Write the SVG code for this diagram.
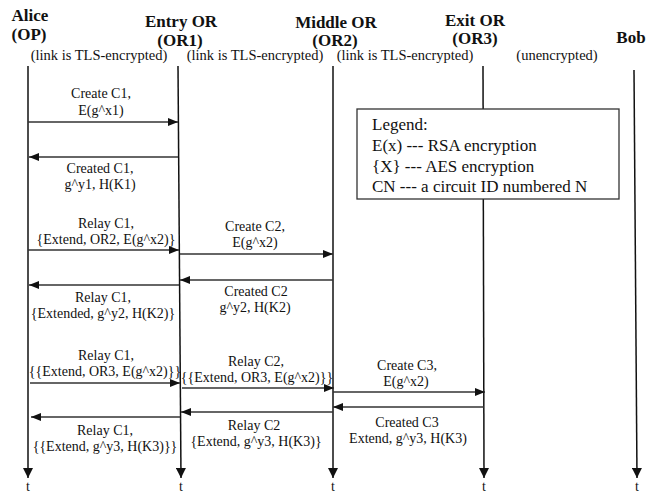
<svg xmlns="http://www.w3.org/2000/svg" width="667" height="493" viewBox="0 0 667 493">
<style>
  text { font-family: "Liberation Serif", "Times New Roman", serif; fill: #111; }
  .hd { font-size: 17px; font-weight: bold; text-anchor: middle; }
  .lk { font-size: 14.5px; text-anchor: middle; }
  .msg { font-size: 14px; text-anchor: middle; }
  .lg { font-size: 17px; }
  .t { font-size: 14px; text-anchor: middle; }
  .life { stroke: #111; stroke-width: 1.5; fill: none; }
  .m { stroke: #333; stroke-width: 1.3; fill: none; marker-end: url(#ah); }
</style>
<defs>
  <marker id="ah" markerUnits="userSpaceOnUse" markerWidth="10" markerHeight="8" refX="10" refY="4" orient="auto">
    <path d="M0,0 L10,4 L0,8 z" fill="#111"/>
  </marker>
  <marker id="lh" markerUnits="userSpaceOnUse" markerWidth="10" markerHeight="10" refX="10" refY="5" orient="auto">
    <path d="M0,0 L10,5 L0,10 z" fill="#111"/>
  </marker>
</defs>
<rect width="667" height="493" fill="#fff"/>

<g id="alice">
  <text class="hd" x="30" y="21">Alice</text>
  <text class="hd" x="29" y="40">(OP)</text>
  <line class="life" x1="28" y1="66" x2="28" y2="478" marker-end="url(#lh)"/>
  <text class="t" x="28" y="491">t</text>
</g>
<g id="or1">
  <text class="hd" x="181" y="27">Entry OR</text>
  <text class="hd" x="180" y="46">(OR1)</text>
  <line class="life" x1="178" y1="66" x2="181" y2="478" marker-end="url(#lh)"/>
  <text class="t" x="181" y="491">t</text>
</g>
<g id="or2">
  <text class="hd" x="336" y="28">Middle OR</text>
  <text class="hd" x="335" y="46">(OR2)</text>
  <line class="life" x1="333" y1="66" x2="333" y2="478" marker-end="url(#lh)"/>
  <text class="t" x="333" y="491">t</text>
</g>
<g id="or3">
  <text class="hd" x="475" y="26">Exit OR</text>
  <text class="hd" x="475" y="44">(OR3)</text>
  <line class="life" x1="483" y1="66" x2="484" y2="478" marker-end="url(#lh)"/>
  <text class="t" x="484" y="491">t</text>
</g>
<g id="bob">
  <text class="hd" x="631" y="43">Bob</text>
  <line class="life" x1="634" y1="70" x2="637" y2="478" marker-end="url(#lh)"/>
  <text class="t" x="637" y="491">t</text>
</g>

<g id="link-labels">
  <text class="lk" x="99" y="60">(link is TLS-encrypted)</text>
  <text class="lk" x="255" y="60">(link is TLS-encrypted)</text>
  <text class="lk" x="405" y="60">(link is TLS-encrypted)</text>
  <text class="lk" x="557" y="60">(unencrypted)</text>
</g>

<g id="legend">
  <rect x="357" y="109" width="262" height="90" fill="#fff" stroke="#333" stroke-width="1.3"/>
  <text class="lg" x="372" y="130">Legend:</text>
  <text class="lg" x="372" y="151">E(x) --- RSA encryption</text>
  <text class="lg" x="372" y="172">{X} --- AES encryption</text>
  <text class="lg" x="372" y="192">CN --- a circuit ID numbered N</text>
</g>

<g id="connectors">
  <line class="m" x1="28" y1="122" x2="178" y2="122"/>
  <line class="m" x1="178" y1="157" x2="29" y2="157"/>
  <line class="m" x1="28" y1="250" x2="179" y2="250"/>
  <line class="m" x1="180" y1="254" x2="333" y2="254"/>
  <line class="m" x1="333" y1="280" x2="180" y2="280"/>
  <line class="m" x1="179" y1="285" x2="29" y2="285"/>
  <line class="m" x1="30" y1="383" x2="180" y2="383"/>
  <line class="m" x1="182" y1="388" x2="334" y2="388"/>
  <line class="m" x1="333" y1="392" x2="485" y2="392"/>
  <line class="m" x1="484" y1="407" x2="333" y2="407"/>
  <line class="m" x1="333" y1="412" x2="181" y2="412"/>
  <line class="m" x1="180" y1="417" x2="31" y2="417"/>
</g>

<g id="message-labels">
  <text class="msg" x="101" y="98">Create C1,</text>
  <text class="msg" x="101" y="115">E(g^x1)</text>
  <text class="msg" x="100" y="173">Created C1,</text>
  <text class="msg" x="100" y="189">g^y1, H(K1)</text>
  <text class="msg" x="106" y="228">Relay C1,</text>
  <text class="msg" x="106" y="244">{Extend, OR2, E(g^x2)}</text>
  <text class="msg" x="255" y="231">Create C2,</text>
  <text class="msg" x="255" y="247">E(g^x2)</text>
  <text class="msg" x="256" y="296">Created C2</text>
  <text class="msg" x="255" y="312">g^y2, H(K2)</text>
  <text class="msg" x="103" y="302">Relay C1,</text>
  <text class="msg" x="103" y="318">{Extended, g^y2, H(K2)}</text>
  <text class="msg" x="106" y="360">Relay C1,</text>
  <text class="msg" x="105" y="376">{{Extend, OR3, E(g^x2)}}</text>
  <text class="msg" x="256" y="366">Relay C2,</text>
  <text class="msg" x="257" y="382">{{Extend, OR3, E(g^x2)}}</text>
  <text class="msg" x="407" y="370">Create C3,</text>
  <text class="msg" x="406" y="386">E(g^x2)</text>
  <text class="msg" x="407" y="427">Created C3</text>
  <text class="msg" x="408" y="443">Extend, g^y3, H(K3)</text>
  <text class="msg" x="254" y="430">Relay C2</text>
  <text class="msg" x="256" y="446">{Extend, g^y3, H(K3)}</text>
  <text class="msg" x="105" y="435">Relay C1,</text>
  <text class="msg" x="105" y="451">{{Extend, g^y3, H(K3)}}</text>
</g>
</svg>
